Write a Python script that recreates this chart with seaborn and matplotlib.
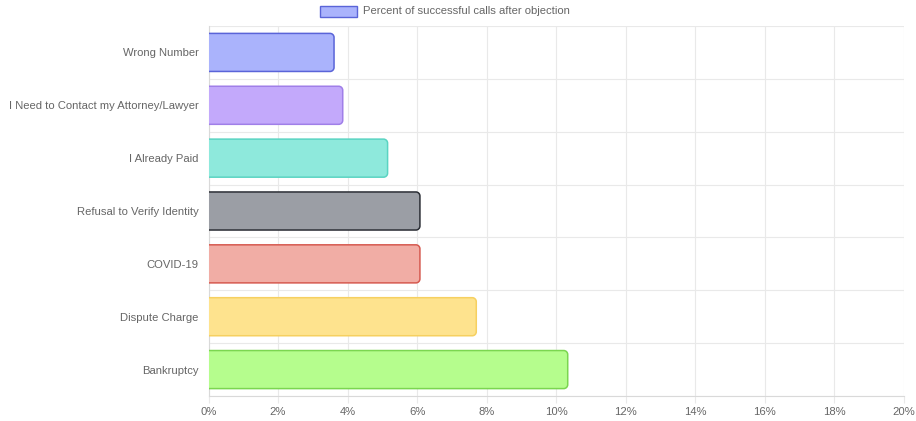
import matplotlib
matplotlib.use("Agg")
import matplotlib.pyplot as plt
from matplotlib.path import Path
from matplotlib.patches import PathPatch, Rectangle
import seaborn as sns
import pandas as pd

# Objection categories and share of successful calls after each objection (%)
categories = [
    "Wrong Number",
    "I Need to Contact my Attorney/Lawyer",
    "I Already Paid",
    "Refusal to Verify Identity",
    "COVID-19",
    "Dispute Charge",
    "Bankruptcy",
]
success_pct = [3.61, 3.86, 5.15, 6.08, 6.08, 7.70, 10.33]
fill_colors = ["#aab3fc", "#c3a9fb", "#8ee9dc", "#9b9ea5", "#f1ada5", "#fee38e", "#b5fd8d"]
edge_colors = ["#5a64d8", "#a07fe8", "#5ad4c2", "#2b2e35", "#d65a50", "#f6d060", "#7bd650"]
x_ticks = list(range(0, 21, 2))
legend_label = "Percent of successful calls after objection"

df = pd.DataFrame({"category": categories, "pct": success_pct})

W, H = 916, 421
fig = plt.figure(figsize=(W / 100, H / 100), dpi=100)
left_px, right_px, top_px, bottom_px = 208.5, 904, 26, 396
ax = fig.add_axes([left_px / W, 1 - bottom_px / H,
                   (right_px - left_px) / W, (bottom_px - top_px) / H])

sns.barplot(data=df, x="pct", y="category", hue="category", palette=fill_colors,
            orient="h", width=0.72, legend=False, ax=ax, saturation=1)

ax.set_xlim(0, 20)
ax.set_ylim(len(categories) - 0.5, -0.5)

# Replace plain rectangles with bars rounded on the value end
px_per_x = (right_px - left_px) / 20
px_per_y = (bottom_px - top_px) / len(categories)
r_px = 4.0
k = 0.5523
rects = list(ax.patches)
for rect in rects:
    x0, y0 = rect.get_x(), rect.get_y()
    w, h = rect.get_width(), rect.get_height()
    rect.remove()
    idx = int(round(y0 + h / 2))
    x1 = x0 + w
    ya, yb = y0, y0 + h
    rx, ry = r_px / px_per_x, r_px / px_per_y
    verts = [
        (x0, ya), (x1 - rx, ya),
        (x1 - rx + k * rx, ya), (x1, ya + ry - k * ry), (x1, ya + ry),
        (x1, yb - ry),
        (x1, yb - ry + k * ry), (x1 - rx + k * rx, yb), (x1 - rx, yb),
        (x0, yb),
    ]
    codes = [Path.MOVETO, Path.LINETO,
             Path.CURVE4, Path.CURVE4, Path.CURVE4,
             Path.LINETO,
             Path.CURVE4, Path.CURVE4, Path.CURVE4,
             Path.LINETO]
    fill_path = Path(verts + [(x0, ya)], codes + [Path.CLOSEPOLY])
    ax.add_patch(PathPatch(fill_path, facecolor=fill_colors[idx], edgecolor="none", zorder=3))
    edge_path = Path(verts, codes)
    ax.add_patch(PathPatch(edge_path, facecolor="none", edgecolor=edge_colors[idx],
                           linewidth=1.1, zorder=4))

# Grid: vertical at ticks, horizontal between categories
grid_c = "#e9e9e9"
ax.set_xticks(x_ticks)
ax.set_xticklabels([f"{t}%" for t in x_ticks])
for t in x_ticks:
    ax.axvline(t, color=grid_c, linewidth=0.8, zorder=0)
for b in range(len(categories) + 1):
    ax.axhline(b - 0.5, color=grid_c, linewidth=0.8, zorder=0)

ax.set_xlabel("")
ax.set_ylabel("")
for s in ["top", "right"]:
    ax.spines[s].set_visible(False)
ax.spines["left"].set_color("#d9d9d9")
ax.spines["bottom"].set_color("#d9d9d9")
ax.spines["left"].set_linewidth(0.8)
ax.spines["bottom"].set_linewidth(0.8)

font = "Liberation Sans"
ax.tick_params(axis="x", length=5, width=0.8, color=grid_c, pad=3,
               labelsize=8.1, labelcolor="#666666")
ax.tick_params(axis="y", length=0, pad=7, labelsize=8.1, labelcolor="#666666")
for lab in ax.get_xticklabels() + ax.get_yticklabels():
    lab.set_fontfamily(font)

# Legend drawn at the top of the figure
box = Rectangle((320 / W, 1 - 16.5 / H), 37 / W, 11 / H, transform=fig.transFigure,
                facecolor=fill_colors[0], edgecolor=edge_colors[0], linewidth=1.0)
fig.patches.append(box)
fig.text(363 / W, 1 - 11.5 / H, legend_label, fontsize=8.1, color="#666666",
         va="center", ha="left", fontfamily=font)

fig.savefig("out.png", dpi=100, facecolor="white")
